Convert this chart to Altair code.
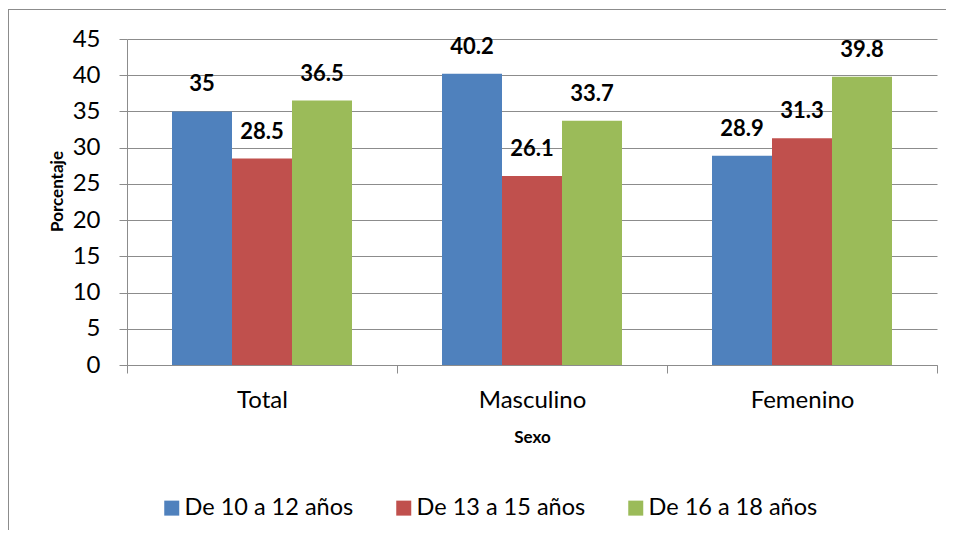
import altair as alt
import pandas as pd

sexo = ["Total", "Masculino", "Femenino"]
grupos = ["De 10 a 12 años", "De 13 a 15 años", "De 16 a 18 años"]
v_10_12 = [35, 40.2, 28.9]
v_13_15 = [28.5, 26.1, 31.3]
v_16_18 = [36.5, 33.7, 39.8]
colores = ["#4F81BD", "#C0504D", "#9BBB59"]
y_ticks = [0, 5, 10, 15, 20, 25, 30, 35, 40, 45]

rows = []
for g, vals in zip(grupos, [v_10_12, v_13_15, v_16_18]):
    for s, v in zip(sexo, vals):
        rows.append({"Sexo": s, "Grupo": g, "Porcentaje": v, "Etiqueta": f"{v:g}"})
df = pd.DataFrame(rows)

FONT = "Lato"
GRID = "#8C8C8C"

base = alt.Chart(df).encode(
    x=alt.X(
        "Sexo:N",
        sort=sexo,
        scale=alt.Scale(paddingInner=0, paddingOuter=0),
        axis=alt.Axis(
            title="Sexo",
            labelAngle=0,
            tickBand="extent",
            tickSize=8,
            tickColor=GRID,
            domainColor=GRID,
            grid=False,
            labelFont=FONT,
            labelFontSize=24,
            labelColor="black",
            labelPadding=15,
            titleFont=FONT,
            titleFontSize=17,
            titleFontWeight="bold",
            titleColor="black",
            titleY=72,
            titleBaseline="middle",
        ),
    ),
    xOffset=alt.XOffset(
        "Grupo:N", sort=grupos, scale=alt.Scale(paddingInner=0, paddingOuter=0.75)
    ),
    y=alt.Y(
        "Porcentaje:Q",
        scale=alt.Scale(domain=[0, 45], nice=False),
        axis=alt.Axis(
            title="Porcentaje",
            values=y_ticks,
            labelOverlap=False,
            tickSize=8,
            tickColor=GRID,
            domainColor=GRID,
            grid=True,
            gridColor=GRID,
            labelFont=FONT,
            labelFontSize=24,
            labelColor="black",
            labelPadding=19,
            titleFont=FONT,
            titleFontSize=17,
            titleFontWeight="bold",
            titleColor="black",
            titleX=-70,
            titleY=152,
            titleAngle=270,
            titleAlign="center",
            titleBaseline="middle",
        ),
    ),
)

bars = base.mark_bar().encode(
    color=alt.Color(
        "Grupo:N",
        sort=grupos,
        scale=alt.Scale(domain=grupos, range=colores),
        legend=alt.Legend(
            title=None,
            orient="none",
            legendX=33,
            legendY=457,
            direction="horizontal",
            symbolType="square",
            symbolSize=225,
            symbolStrokeWidth=0,
            labelFont=FONT,
            labelFontSize=23.5,
            labelColor="black",
            labelLimit=0,
            labelOffset=1,
            columnPadding=38,
            padding=0,
        ),
    ),
)

labels = base.mark_text(
    font=FONT, fontSize=22, fontWeight="bold", color="black", baseline="middle", dy=-27
).encode(text="Etiqueta:N")

frame_df = pd.DataFrame({"k": [0]})
frame_left = alt.Chart(frame_df).mark_rule(color=GRID, strokeWidth=1).encode(
    x=alt.value(-118.5), y=alt.value(-30), y2=alt.value(492)
)
frame_top = alt.Chart(frame_df).mark_rule(color=GRID, strokeWidth=1).encode(
    x=alt.value(-119), x2=alt.value(820), y=alt.value(-29.5)
)

chart = (
    alt.layer(bars, labels, frame_left, frame_top)
    .properties(
        width=810,
        height=326,
        autosize=alt.AutoSizeParams(type="none"),
        padding={"left": 119, "top": 31, "right": 9, "bottom": 165},
    )
    .configure_view(stroke=None)
    .configure_axis(gridWidth=1, domainWidth=1, tickWidth=1)
)

chart.save("out.html", embed_options={"renderer": "svg", "actions": False})
